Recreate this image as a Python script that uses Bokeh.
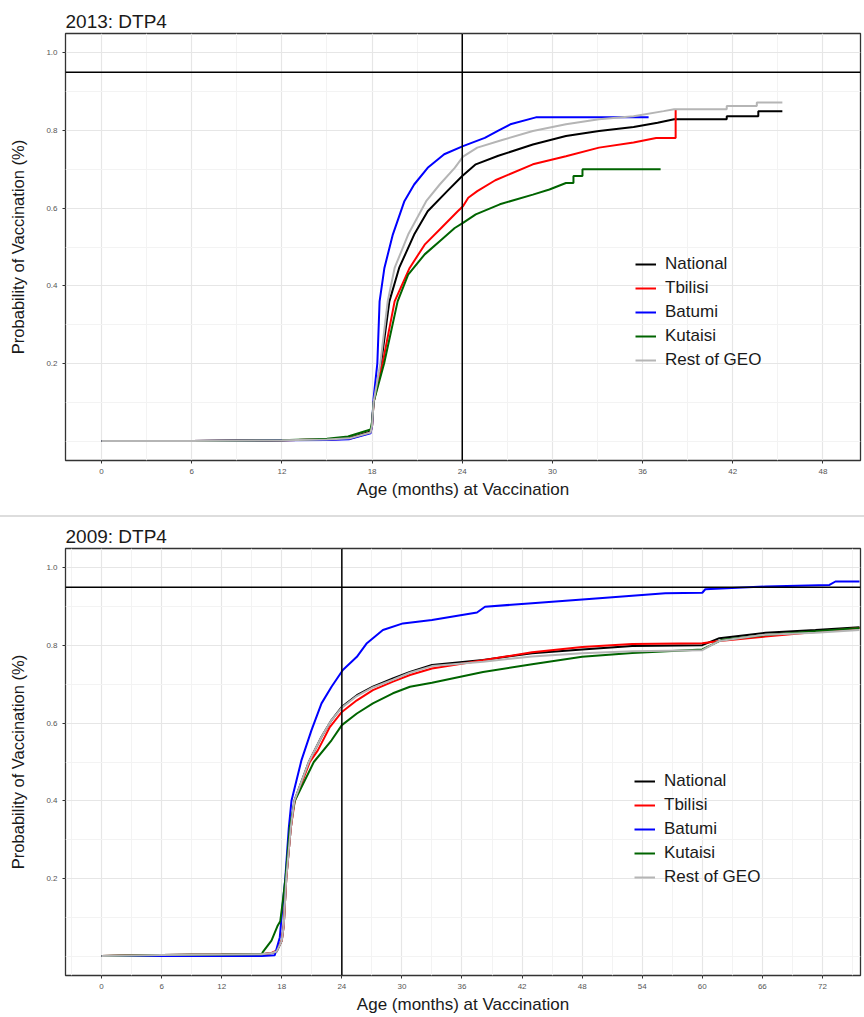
from bokeh.plotting import figure
from bokeh.layouts import column
from bokeh.models import Span, FixedTicker, PrintfTickFormatter, Div
from bokeh.embed import file_html
from bokeh.resources import INLINE

FONT = "Liberation Sans"

series_names = ["National", "Tbilisi", "Batumi", "Kutaisi", "Rest of GEO"]
series_colors = ["black", "red", "blue", "#006400", "#b5b5b5"]

# ---------------- 2013: DTP4 ----------------
nat13_x = [0, 6, 12, 15, 16.5, 17.9, 18.0, 18.1, 18.6, 19.15, 19.8, 20.8, 21.7, 23.0, 24.0, 24.9, 26.4,
           28.7, 30.9, 33.1, 35.4, 37.0, 38.1, 41.6, 41.6, 43.7, 43.7, 45.3]
nat13_y = [0, 0, 0.002, 0.004, 0.008, 0.025, 0.04, 0.10, 0.20, 0.36, 0.446, 0.532, 0.592, 0.644, 0.683,
           0.713, 0.735, 0.764, 0.786, 0.799, 0.809, 0.820, 0.829, 0.829, 0.837, 0.837, 0.850, 0.850]

tbi13_x = [0, 6, 12, 15, 16.5, 17.9, 18.0, 18.1, 18.7, 19.5, 20.5, 21.5, 22.6, 23.7, 24.05, 24.4, 25.0,
           26.2, 28.7, 30.9, 33.1, 35.4, 36.9, 38.2, 38.2]
tbi13_y = [0, 0, 0.002, 0.004, 0.006, 0.022, 0.04, 0.10, 0.20, 0.36, 0.446, 0.506, 0.549, 0.592, 0.605,
           0.627, 0.644, 0.672, 0.713, 0.734, 0.756, 0.769, 0.781, 0.781, 0.855]

bat13_x = [0, 6, 12, 15, 16.5, 17.9, 18.0, 18.1, 18.35, 18.5, 18.82, 19.38, 20.15, 20.8, 21.7, 22.8,
           24.05, 25.5, 26.4, 27.2, 28.9, 36.4]
bat13_y = [0, 0, 0.002, 0.003, 0.005, 0.02, 0.04, 0.11, 0.20, 0.36, 0.446, 0.532, 0.618, 0.661, 0.704,
           0.739, 0.760, 0.781, 0.800, 0.816, 0.834, 0.834]

kut13_x = [0, 6, 12, 15, 16.4, 17.9, 18.0, 18.1, 18.8, 19.7, 20.4, 21.5, 22.5, 23.5, 24.05, 24.9, 26.5,
           28.7, 29.8, 30.9, 31.4, 31.4, 32.0, 32.0, 37.2]
kut13_y = [0, 0, 0.002, 0.006, 0.012, 0.03, 0.05, 0.10, 0.20, 0.36, 0.429, 0.481, 0.515, 0.549, 0.562,
           0.584, 0.610, 0.635, 0.648, 0.665, 0.665, 0.683, 0.683, 0.700, 0.700]

rst13_x = [0, 6, 12, 15, 16.5, 17.9, 18.0, 18.1, 18.55, 19.04, 19.5, 20.4, 21.6, 22.5, 23.5, 24.05, 25.0,
           26.6, 28.7, 30.9, 33.1, 35.4, 37.4, 38.1, 41.6, 41.6, 43.6, 43.6, 45.3]
rst13_y = [0, 0, 0.002, 0.004, 0.007, 0.022, 0.04, 0.10, 0.20, 0.36, 0.446, 0.532, 0.618, 0.661, 0.704,
           0.733, 0.756, 0.775, 0.799, 0.816, 0.829, 0.837, 0.850, 0.855, 0.855, 0.863, 0.863, 0.872, 0.872]

# ---------------- 2009: DTP4 ----------------
nat09_x = [0, 6, 12, 16, 17.0, 17.5, 18.0, 18.2, 18.45, 18.9, 19.25, 20.7, 21.97, 22.97, 24.0, 25.5, 27.1,
           29.1, 30.8, 33.0, 38.1, 43.0, 48.0, 53.0, 60.0, 61.7, 66.3, 71.3, 75.7]
nat09_y = [0, 0.003, 0.004, 0.005, 0.008, 0.012, 0.04, 0.08, 0.20, 0.33, 0.40, 0.50, 0.565, 0.608, 0.642,
           0.672, 0.694, 0.715, 0.732, 0.750, 0.763, 0.780, 0.790, 0.799, 0.801, 0.819, 0.833, 0.840, 0.847]

tbi09_x = [0, 6, 12, 16, 17.0, 17.5, 18.0, 18.2, 18.45, 18.9, 19.3, 20.8, 21.6, 22.8, 24.0, 25.5, 27.1,
           29.1, 30.8, 33.0, 38.1, 43.0, 48.0, 53.0, 60.0, 61.7, 66.3, 71.3, 75.7]
tbi09_y = [0, 0.003, 0.004, 0.005, 0.008, 0.015, 0.04, 0.08, 0.20, 0.33, 0.40, 0.50, 0.53, 0.590, 0.629,
           0.659, 0.685, 0.707, 0.724, 0.741, 0.762, 0.783, 0.796, 0.804, 0.806, 0.812, 0.823, 0.835, 0.845]

bat09_x = [0, 6, 12, 16, 17.3, 17.8, 18.05, 18.35, 18.7, 18.97, 19.97, 20.97, 21.97, 22.97, 24.1, 25.5,
           26.5, 28.1, 30.1, 33.0, 36.3, 37.5, 38.3, 43.0, 49.7, 56.3, 60.0, 60.3, 66.3, 72.7, 73.3, 75.7]
bat09_y = [0, 0, 0, 0, 0.002, 0.048, 0.12, 0.20, 0.33, 0.40, 0.505, 0.582, 0.651, 0.694, 0.737, 0.771,
           0.806, 0.840, 0.857, 0.866, 0.880, 0.885, 0.900, 0.909, 0.922, 0.935, 0.936, 0.945, 0.952, 0.956,
           0.965, 0.965]

kut09_x = [0, 6, 12, 16.0, 16.1, 16.97, 17.6, 17.85, 18.03, 18.37, 18.8, 19.3, 21.2, 22.97, 24.0, 25.5,
           27.1, 29.1, 30.8, 33.0, 38.1, 43.0, 48.0, 53.0, 60.0, 62.0, 66.3, 71.3, 75.7]
kut09_y = [0, 0.003, 0.004, 0.005, 0.010, 0.040, 0.079, 0.090, 0.126, 0.20, 0.332, 0.40, 0.50, 0.556,
           0.595, 0.625, 0.651, 0.677, 0.694, 0.704, 0.732, 0.752, 0.771, 0.781, 0.790, 0.815, 0.827, 0.837,
           0.845]

rst09_x = [0, 6, 12, 16, 17.0, 17.5, 18.0, 18.2, 18.45, 18.9, 19.25, 20.7, 21.97, 22.97, 24.0, 25.5, 27.1,
           29.1, 30.8, 33.0, 38.1, 43.0, 48.0, 53.0, 60.0, 61.7, 66.3, 71.3, 75.7]
rst09_y = [0, 0.003, 0.004, 0.005, 0.008, 0.012, 0.04, 0.08, 0.20, 0.33, 0.40, 0.50, 0.565, 0.608, 0.640,
           0.670, 0.692, 0.712, 0.730, 0.747, 0.758, 0.772, 0.780, 0.785, 0.788, 0.812, 0.828, 0.833, 0.840]

ticks_13 = [0, 6, 12, 18, 24, 30, 36, 42, 48]
ticks_09 = [0, 6, 12, 18, 24, 30, 36, 42, 48, 54, 60, 66, 72]
y_ticks = [0.2, 0.4, 0.6, 0.8, 1.0]
y_minor = [0.0, 0.1, 0.3, 0.5, 0.7, 0.9]
target_level = 0.95
age_ref = 24


def make_panel(title, xs, ys, xticks, xrange, height, border_top, border_bottom, legend_loc):
    p = figure(width=864, height=height, output_backend="svg", toolbar_location=None,
               x_range=xrange, y_range=(-0.05, 1.05),
               min_border_left=65, min_border_right=4,
               min_border_top=border_top, min_border_bottom=border_bottom)
    p.title.text = title
    p.title.text_font = FONT
    p.title.text_font_size = "19px"
    p.title.text_font_style = "normal"
    p.title.text_color = "#1a1a1a"
    p.title.standoff = 4
    p.title.offset = 0

    step = xticks[1] - xticks[0]
    minor_x = [t + step / 2 for t in [xticks[0] - step] + xticks]
    p.xaxis.ticker = FixedTicker(ticks=xticks, minor_ticks=minor_x)
    p.yaxis.ticker = FixedTicker(ticks=y_ticks, minor_ticks=y_minor)
    p.yaxis.formatter = PrintfTickFormatter(format="%.1f")

    p.xaxis.axis_label = "Age (months) at Vaccination"
    p.yaxis.axis_label = "Probability of Vaccination (%)"
    for ax in (p.xaxis, p.yaxis):
        ax.axis_label_text_font = FONT
        ax.axis_label_text_font_style = "normal"
        ax.axis_label_text_color = "#1a1a1a"
        ax.major_label_text_font = FONT
        ax.major_label_text_font_size = "8px"
        ax.major_label_text_color = "#555555"
        ax.axis_line_color = None
        ax.major_tick_in = 0
        ax.major_tick_out = 3
        ax.major_tick_line_color = "#333333"
        ax.minor_tick_line_color = None
    p.xaxis.axis_label_text_font_size = "17px"
    p.yaxis.axis_label_text_font_size = "16.5px"
    p.xaxis.major_label_standoff = 4
    p.xaxis.axis_label_standoff = 3
    p.yaxis.major_label_standoff = 4
    p.yaxis.axis_label_standoff = 16

    p.grid.grid_line_color = "#e6e6e6"
    p.grid.grid_line_width = 1.2
    p.grid.minor_grid_line_color = "#f3f3f3"
    p.grid.minor_grid_line_width = 1

    p.outline_line_color = "#333333"
    p.outline_line_width = 1.3
    p.background_fill_color = "white"

    for x, y, name, col in zip(xs, ys, series_names, series_colors):
        p.line(x, y, line_color=col, line_width=2, legend_label=name)

    p.add_layout(Span(location=target_level, dimension="width", line_color="black", line_width=1.5))
    p.add_layout(Span(location=age_ref, dimension="height", line_color="black", line_width=1.5))

    lg = p.legend[0]
    lg.location = legend_loc
    lg.padding = 0
    lg.margin = 0
    lg.spacing = 0
    lg.label_height = 24
    lg.glyph_height = 24
    lg.glyph_width = 21
    lg.label_standoff = 9
    lg.label_text_font = FONT
    lg.label_text_font_size = "17px"
    lg.label_text_color = "#1a1a1a"
    lg.background_fill_alpha = 0
    lg.border_line_color = None
    return p


p1 = make_panel("2013: DTP4",
                [nat13_x, tbi13_x, bat13_x, kut13_x, rst13_x],
                [nat13_y, tbi13_y, bat13_y, kut13_y, rst13_y],
                ticks_13, (-2.4, 50.5), 515, 33, 55, (570, 88))

sep = Div(text="", width=864, height=2, margin=(0, 0, 0, 0),
          styles={"background-color": "#dddddd"})

p2 = make_panel("2009: DTP4",
                [nat09_x, tbi09_x, bat09_x, kut09_x, rst09_x],
                [nat09_y, tbi09_y, bat09_y, kut09_y, rst09_y],
                ticks_09, (-3.6, 75.8), 500, 31, 42, (569, 86))

layout = column(p1, sep, p2, spacing=0)
open("out.html", "w").write(file_html(layout, INLINE))
